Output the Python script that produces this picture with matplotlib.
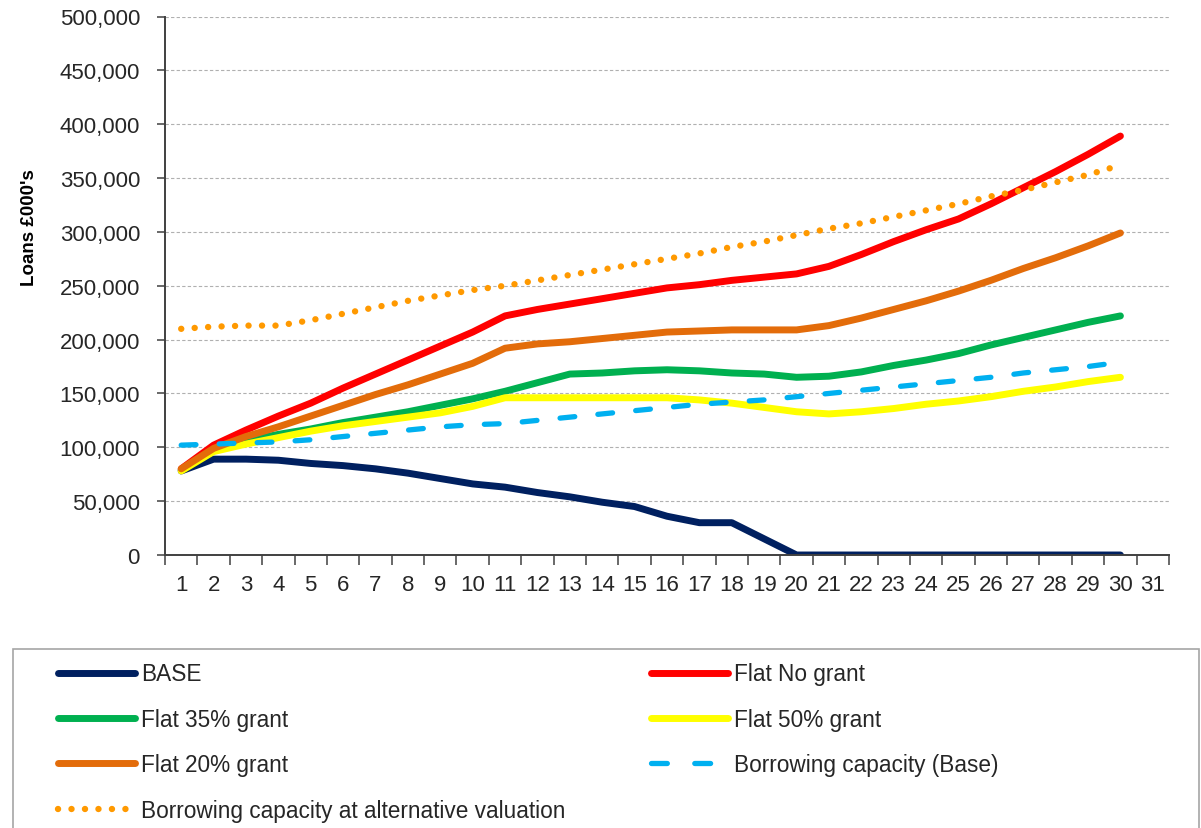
import matplotlib
matplotlib.use("Agg")
import matplotlib.pyplot as plt
from matplotlib.patches import Rectangle
from matplotlib.ticker import FuncFormatter, MultipleLocator, FixedLocator

plt.rcParams['font.family'] = ['Liberation Sans', 'DejaVu Sans']

years = list(range(1, 31))

base = [78000, 89000, 89000, 88000, 85000, 83000, 80000, 76000, 71000, 66000,
        63000, 58000, 54000, 49000, 45000, 36000, 30000, 30000, 15000, 0,
        0, 0, 0, 0, 0, 0, 0, 0, 0, 0]
flat_no_grant = [80000, 102000, 116000, 129000, 141000, 155000, 168000, 181000, 194000, 207000,
                 222000, 228000, 233000, 238000, 243000, 248000, 251000, 255000, 258000, 261000,
                 268000, 279000, 291000, 302000, 312000, 326000, 341000, 356000, 372000, 389000]
flat_35_grant = [79000, 98000, 106000, 112000, 117000, 123000, 128000, 133000, 139000, 145000,
                 152000, 160000, 168000, 169000, 171000, 172000, 171000, 169000, 168000, 165000,
                 166000, 170000, 176000, 181000, 187000, 195000, 202000, 209000, 216000, 222000]
flat_50_grant = [78000, 96000, 103000, 109000, 115000, 120000, 124000, 128000, 132000, 138000,
                 146000, 146000, 146000, 146000, 146000, 146000, 144000, 141000, 137000, 133000,
                 131000, 133000, 136000, 140000, 143000, 147000, 152000, 156000, 161000, 165000]
flat_20_grant = [80000, 99000, 110000, 119000, 129000, 139000, 149000, 158000, 168000, 178000,
                 192000, 196000, 198000, 201000, 204000, 207000, 208000, 209000, 209000, 209000,
                 213000, 220000, 228000, 236000, 245000, 255000, 266000, 276000, 287000, 299000]
capacity_base = [102000, 103000, 104000, 105000, 107000, 110000, 113000, 116000, 119000, 121000,
                 122000, 125000, 128000, 131000, 134000, 137000, 140000, 142000, 144000, 147000,
                 150000, 153000, 156000, 159000, 162000, 165000, 169000, 172000, 175000, 179000]
capacity_alt = [210000, 212000, 213000, 213000, 218000, 224000, 230000, 236000, 241000, 246000,
                250000, 255000, 260000, 265000, 270000, 275000, 280000, 286000, 291000, 297000,
                303000, 308000, 314000, 320000, 326000, 333000, 339000, 346000, 353000, 362000]

W, H = 1201, 829
fig = plt.figure(figsize=(W / 100, H / 100), dpi=100)
ax = fig.add_axes([165 / W, 1 - 556 / H, (1169 - 165) / W, (556 - 17.5) / H])

text_col = '#262626'
axis_col = '#404040'
lw = 5.0

l_base, = ax.plot(years, base, color='#002060', lw=lw, solid_capstyle='round',
                  solid_joinstyle='round', label='BASE')
l_nog, = ax.plot(years, flat_no_grant, color='#FF0000', lw=lw, solid_capstyle='round',
                 solid_joinstyle='round', label='Flat No grant')
l_35, = ax.plot(years, flat_35_grant, color='#00B050', lw=lw, solid_capstyle='round',
                solid_joinstyle='round', label='Flat 35% grant')
l_50, = ax.plot(years, flat_50_grant, color='#FFFF00', lw=lw, solid_capstyle='round',
                solid_joinstyle='round', label='Flat 50% grant')
l_20, = ax.plot(years, flat_20_grant, color='#E36C0A', lw=lw, solid_capstyle='round',
                solid_joinstyle='round', label='Flat 20% grant')
l_cap, = ax.plot(years, capacity_base, color='#00B0F0', lw=3.8, dash_capstyle='round',
                 dashes=(2.8, 4.4), label='Borrowing capacity (Base)')
l_alt, = ax.plot(years, capacity_alt, color='#FF9900', lw=4.6, dash_capstyle='round',
                 dashes=(0.01, 2.1), label='Borrowing capacity at alternative valuation')

ax.set_xlim(0.5, 31.5)
ax.set_ylim(0, 500000)

ax.xaxis.set_major_locator(FixedLocator(range(1, 32)))
ax.xaxis.set_minor_locator(FixedLocator([i + 0.5 for i in range(0, 32)]))
ax.tick_params(axis='x', which='major', length=0, pad=14, labelsize=16, labelcolor=text_col)
ax.tick_params(axis='x', which='minor', length=7, width=1.1, color=axis_col, direction='out')

ax.yaxis.set_major_locator(MultipleLocator(50000))
ax.yaxis.set_major_formatter(FuncFormatter(lambda v, p: f"{int(v):,}"))
ax.tick_params(axis='y', which='major', length=6, width=1.1, color=axis_col, pad=12,
               labelsize=16, labelcolor=text_col, direction='out')

ax.grid(axis='y', color='#B0B0B0', linestyle=(0, (3, 2)), linewidth=0.8)
ax.set_axisbelow(True)

for s in ('top', 'right'):
    ax.spines[s].set_visible(False)
for s in ('left', 'bottom'):
    ax.spines[s].set_color(axis_col)
    ax.spines[s].set_linewidth(1.4)

fig.text(29 / W, 1 - 228 / H, "Loans £000's", rotation=90, ha='center', va='center',
         fontsize=13.5, fontweight='bold', color='#000000')

# legend frame
fig.patches.append(Rectangle((13 / W, -0.05), (1199 - 13) / W, (829 - 650) / H + 0.05,
                             transform=fig.transFigure, fill=False, edgecolor='#A6A6A6',
                             linewidth=1.2))

handles = [l_base, l_35, l_20, l_alt, l_nog, l_50, l_cap]
leg = fig.legend(handles=handles, labels=[h.get_label() for h in handles], ncol=2,
                 loc='upper left', bbox_to_anchor=(58 / W, 1 - 663.5 / H),
                 frameon=False, fontsize=16.3, handlelength=3.4, handletextpad=0.27,
                 labelspacing=0.99, columnspacing=3.76, borderpad=0, borderaxespad=0)
for t in leg.get_texts():
    t.set_color(text_col)
# two clean dashes in the dashed-line key
leg.get_lines()[6].set_dashes((3.0, 5.2))

fig.savefig('out.png', dpi=100)
